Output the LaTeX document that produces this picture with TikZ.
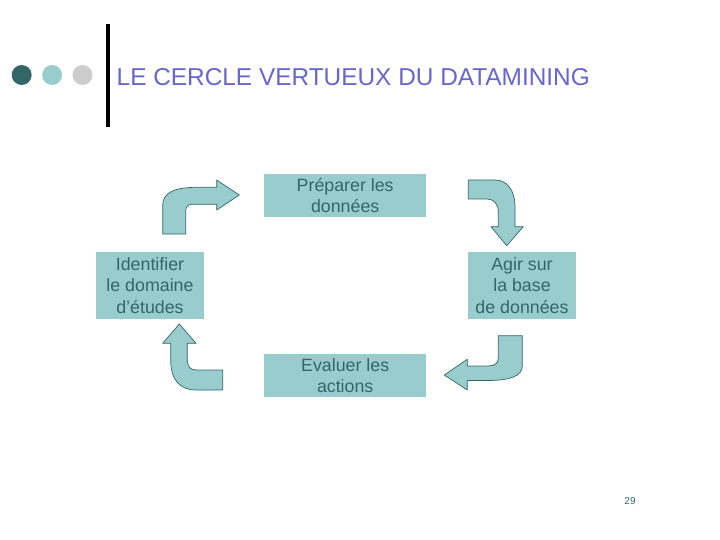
\documentclass[tikz,border=0pt]{standalone}
\usepackage{fontspec}
\setmainfont{Liberation Sans}
\usetikzlibrary{positioning}
\definecolor{tealfill}{RGB}{153,204,204}
\definecolor{tealdark}{RGB}{51,102,102}
\definecolor{titleblue}{RGB}{102,102,204}
\definecolor{dotgray}{RGB}{204,204,204}

\begin{document}
\begin{tikzpicture}[x=1pt, y=-1pt,
    etape/.style={fill=tealfill, text=tealdark, align=center, inner sep=0pt,
      font=\fontsize{17.8}{21.5}\selectfont},
    fleche/.style={fill=tealfill, draw=tealdark, line width=0.7pt, line join=round},
    puce/.style={circle, minimum size=20pt, inner sep=0pt}]
    \useasboundingbox (0,0) rectangle (720,540);

    % puces et titre
    \node[puce, fill=tealdark] (p1) at (21.7,75) {};
    \node[puce, fill=tealfill, right=10pt of p1] (p2) {};
    \node[puce, fill=dotgray, right=10pt of p2] (p3) {};
    \draw[line width=4pt] (108,24) -- (108,127);
    \node[anchor=base west, text=titleblue, inner sep=0pt,
      font=\fontsize{24.4}{28}\selectfont] (titre) at (116.5,86) {LE CERCLE VERTUEUX DU DATAMINING};

    % les etapes
    \node[etape, minimum width=161.7pt, minimum height=42.7pt] (prep) at (345.2,195.3) {Préparer les\\données};
    \node[etape, minimum width=161.7pt, minimum height=42.7pt, below=137.3pt of prep] (eval) {Evaluer les\\actions};
    \node[etape, minimum width=108pt, minimum height=66.7pt] (ident) at (150,285.3) {Identifier\\le domaine\\d’études};
    \node[etape, minimum width=107.4pt, minimum height=66.7pt] (agir) at (522,285.3) {Agir sur\\la base\\de données};

    % fleches courbes
    \draw[fleche] (162.7,234) -- (162.7,205) .. controls (162.7,192) and (176,187.3) .. (197,187.3)
        -- (216.7,187.3) -- (216.7,180) -- (239.3,195) -- (216.7,210) -- (216.7,204.3)
        -- (192,204.3) .. controls (188,204.3) and (185.7,207) .. (185.7,211) -- (185.7,234) -- cycle;
    \draw[fleche] (468.3,180) -- (495,180) .. controls (507,180) and (515,190) .. (515,207)
        -- (515,226.7) -- (523.3,226.7) -- (506.7,245.7) -- (491,226.7) -- (498.3,226.7)
        -- (498.3,212) .. controls (498.3,204) and (494,199) .. (487,199) -- (468.3,199) -- cycle;
    \draw[fleche] (498.3,335.7) -- (522.3,335.7) -- (522.3,366) .. controls (522.3,376) and (510,380.5) .. (488,380.5)
        -- (467.3,380.5) -- (467.3,390) -- (444.3,375) -- (467.3,359.3) -- (467.3,366)
        -- (488,366) .. controls (495,366) and (498.3,363) .. (498.3,358) -- cycle;
    \draw[fleche] (222.7,370) -- (222.7,390) -- (196,390) .. controls (180,390) and (170.7,380) .. (170.7,360)
        -- (170.7,343.3) -- (162.7,343.3) -- (179.3,324) -- (196,343.3) -- (187.3,343.3)
        -- (187.3,360) .. controls (187.3,366) and (190,370) .. (196,370) -- cycle;

    % numero de page
    \node[text=tealdark, font=\fontsize{10}{12}\selectfont] (page) at (630,501) {29};
\end{tikzpicture}
\end{document}
